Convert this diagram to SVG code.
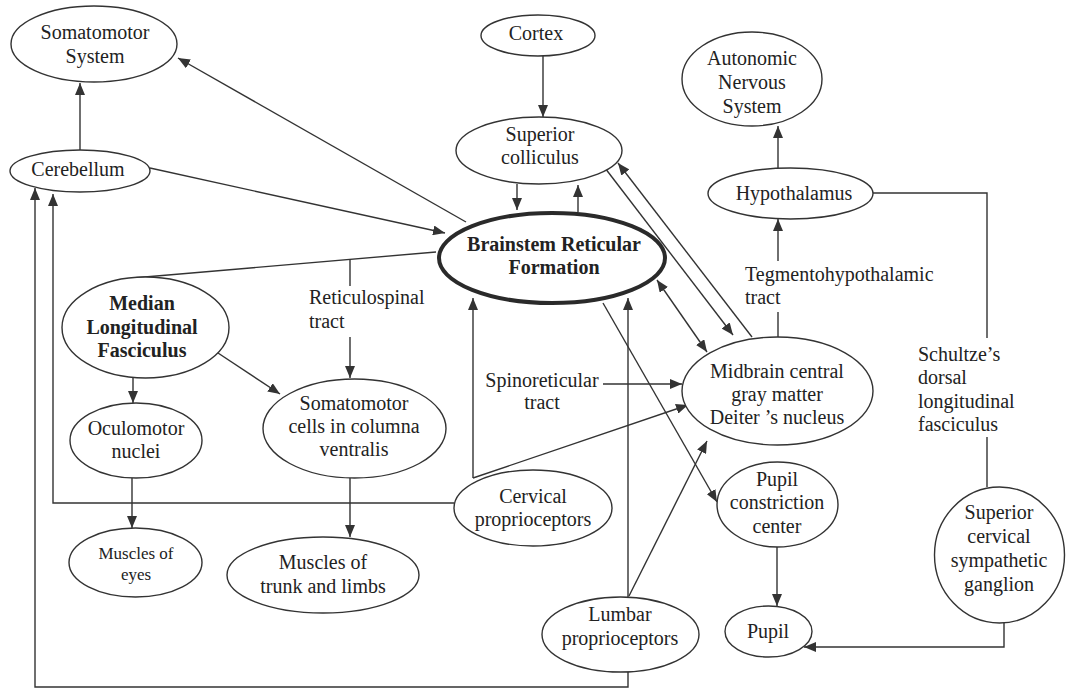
<svg xmlns="http://www.w3.org/2000/svg" width="1067" height="688" viewBox="0 0 1067 688">
<defs>
<style>
.n ellipse{fill:#fff;stroke:#333;stroke-width:1.4}
#brf ellipse{stroke-width:4;stroke:#2a2a2a}
text{font-family:"Liberation Serif","Times New Roman",serif;font-size:20px;fill:#222;text-anchor:middle}
.b{font-weight:bold}
.l{text-anchor:start}
.s{font-size:17px}
#edges path{fill:none;stroke:#333;stroke-width:1.4}
</style>
<marker id="a" markerUnits="userSpaceOnUse" markerWidth="12" markerHeight="10" refX="12" refY="5" orient="auto-start-reverse" viewBox="0 0 12 10">
<path d="M0,0 L12,5 L0,10 z" fill="#333"/>
</marker>
</defs>
<rect width="1067" height="688" fill="#fff"/>
<g id="edges">
<path d="M80,150 L80,83" marker-end="url(#a)"/>
<path d="M466,222 L178,58" marker-end="url(#a)"/>
<path d="M150,168 L445,233" marker-end="url(#a)"/>
<path d="M543,56 L543,117" marker-end="url(#a)"/>
<path d="M517,184 L517,210" marker-end="url(#a)"/>
<path d="M578,212 L578,185" marker-end="url(#a)"/>
<path d="M605,168 L733,335" marker-end="url(#a)"/>
<path d="M752,337 L618,163" marker-end="url(#a)"/>
<path d="M657,280 L707,352" marker-start="url(#a)" marker-end="url(#a)"/>
<path d="M778,337 L778,312"/>
<path d="M778,261 L778,219" marker-end="url(#a)"/>
<path d="M778,168 L778,126" marker-end="url(#a)"/>
<path d="M873,193 L987,193 L987,338"/>
<path d="M987,437 L987,487"/>
<path d="M1004,623 L1004,647 L804,647" marker-end="url(#a)"/>
<path d="M777,547 L777,606" marker-end="url(#a)"/>
<path d="M603,303 L717,502" marker-end="url(#a)"/>
<path d="M603,384 L682,384" marker-end="url(#a)"/>
<path d="M473,478 L473,298" marker-end="url(#a)"/>
<path d="M473,478 L688,405" marker-end="url(#a)"/>
<path d="M454,503 L53,503 L53,194" marker-end="url(#a)"/>
<path d="M628,597 L628,298" marker-end="url(#a)"/>
<path d="M629,596 L707,441" marker-end="url(#a)"/>
<path d="M628,672 L628,687 L35,687 L35,188" marker-end="url(#a)"/>
<path d="M436,252 L133,278"/>
<path d="M350,259 L350,286"/>
<path d="M350,337 L350,378" marker-end="url(#a)"/>
<path d="M133,378 L133,403" marker-end="url(#a)"/>
<path d="M218,353 L280,394" marker-end="url(#a)"/>
<path d="M132,478 L132,528" marker-end="url(#a)"/>
<path d="M350,478 L350,537" marker-end="url(#a)"/>
</g>
<g id="labels">
<text x="778" y="281" class="l" style="text-anchor:start" dx="-33">Tegmentohypothalamic</text>
<text x="745" y="304" class="l">tract</text>
<text x="309" y="304" class="l">Reticulospinal</text>
<text x="309" y="328" class="l">tract</text>
<text x="542" y="387">Spinoreticular</text>
<text x="542" y="409">tract</text>
<text x="918" y="361" class="l">Schultze’s</text>
<text x="918" y="384" class="l">dorsal</text>
<text x="918" y="408" class="l">longitudinal</text>
<text x="918" y="431" class="l">fasciculus</text>
</g>
<g id="somatomotor-system" class="n"><ellipse cx="94" cy="44" rx="83" ry="38"/><text x="95" y="39">Somatomotor</text><text x="95" y="63">System</text></g>
<g id="cerebellum" class="n"><ellipse cx="80" cy="171" rx="70" ry="21"/><text x="78" y="176">Cerebellum</text></g>
<g id="cortex" class="n"><ellipse cx="538" cy="35.5" rx="57" ry="20.5"/><text x="536" y="40">Cortex</text></g>
<g id="superior-colliculus" class="n"><ellipse cx="539" cy="150.5" rx="83" ry="33.5"/><text x="540" y="141">Superior</text><text x="540" y="164">colliculus</text></g>
<g id="autonomic" class="n"><ellipse cx="752" cy="79" rx="70" ry="47"/><text x="752" y="65">Autonomic</text><text x="752" y="89">Nervous</text><text x="752" y="113">System</text></g>
<g id="hypothalamus" class="n"><ellipse cx="790.5" cy="193.5" rx="82.5" ry="25.5"/><text x="794" y="200">Hypothalamus</text></g>
<g id="brf" class="n"><ellipse cx="552" cy="258" rx="113" ry="45"/><text class="b" x="554" y="251">Brainstem Reticular</text><text class="b" x="554" y="274">Formation</text></g>
<g id="mlf" class="n"><ellipse cx="145.5" cy="327.5" rx="83.5" ry="50.5"/><text class="b" x="142" y="310">Median</text><text class="b" x="142" y="334">Longitudinal</text><text class="b" x="142" y="357">Fasciculus</text></g>
<g id="oculomotor" class="n"><ellipse cx="136" cy="440.5" rx="66" ry="37.5"/><text x="136" y="435">Oculomotor</text><text x="136" y="458">nuclei</text></g>
<g id="somatomotor-cells" class="n"><ellipse cx="354.5" cy="428.5" rx="91.5" ry="49.5"/><text x="354" y="410">Somatomotor</text><text x="354" y="433">cells in columna</text><text x="354" y="456">ventralis</text></g>
<g id="muscles-eyes" class="n"><ellipse cx="135.5" cy="562.5" rx="66.5" ry="34.5"/><text class="s" x="136" y="559">Muscles of</text><text class="s" x="136" y="580">eyes</text></g>
<g id="muscles-trunk" class="n"><ellipse cx="323" cy="575" rx="96" ry="38"/><text x="323" y="569">Muscles of</text><text x="323" y="593">trunk and limbs</text></g>
<g id="cervical" class="n"><ellipse cx="533" cy="508" rx="79" ry="38"/><text x="533" y="503">Cervical</text><text x="533" y="526">proprioceptors</text></g>
<g id="midbrain" class="n"><ellipse cx="777.5" cy="391" rx="95.5" ry="54"/><text x="777" y="378">Midbrain central</text><text x="777" y="401">gray matter</text><text x="777" y="424">Deiter ’s nucleus</text></g>
<g id="pupil-constriction" class="n"><ellipse cx="777.5" cy="504.5" rx="60.5" ry="42.5"/><text x="777" y="486">Pupil</text><text x="777" y="509">constriction</text><text x="777" y="533">center</text></g>
<g id="pupil" class="n"><ellipse cx="768.5" cy="631.5" rx="43.5" ry="25.5"/><text x="768" y="638">Pupil</text></g>
<g id="lumbar" class="n"><ellipse cx="620.5" cy="634.5" rx="78.5" ry="37.5"/><text x="620" y="621">Lumbar</text><text x="620" y="645">proprioceptors</text></g>
<g id="scsg" class="n"><ellipse cx="999.5" cy="555" rx="65" ry="68"/><text x="999" y="519">Superior</text><text x="999" y="543">cervical</text><text x="999" y="567">sympathetic</text><text x="999" y="591">ganglion</text></g>
</svg>
